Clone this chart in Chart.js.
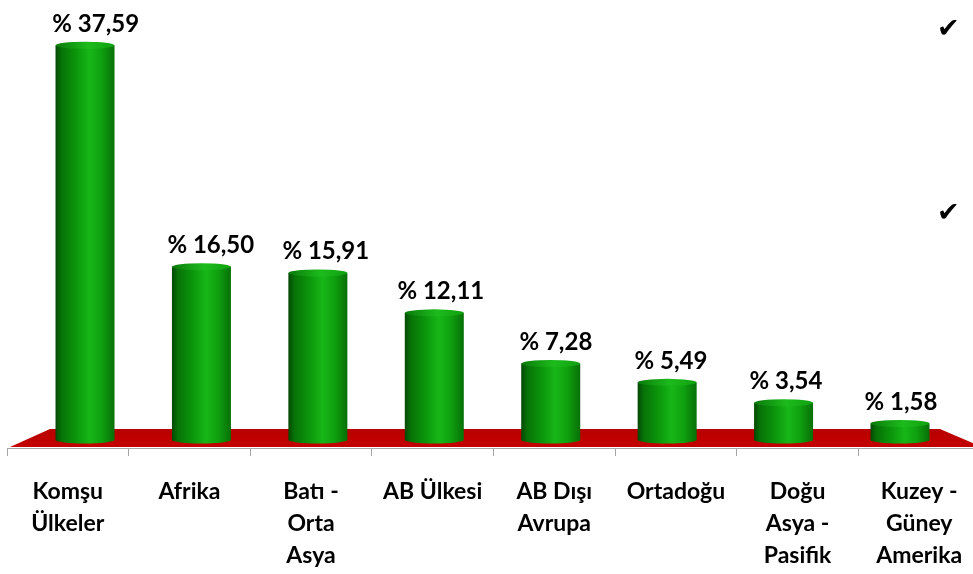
<!DOCTYPE html>
<html>
<head>
<meta charset="utf-8">
<script src="https://cdn.jsdelivr.net/npm/chart.js@4/dist/chart.umd.min.js"></script>
<style>
html,body{margin:0;padding:0;background:#fff;overflow:hidden;width:973px;height:574px;}
#wrap{position:relative;width:985px;height:574px;}
canvas{display:block;}
.chk{position:absolute;font-family:"DejaVu Sans",sans-serif;font-size:27px;line-height:27px;color:#000;}
</style>
</head>
<body>
<div id="wrap">
<canvas id="c" width="985" height="574"></canvas>
<span class="chk" style="left:937px;top:14px;">✔</span>
<span class="chk" style="left:937px;top:198px;">✔</span>
</div>
<script>
// Categories (multi-line labels)
const categories = [
  ['Komşu', 'Ülkeler'],
  ['Afrika'],
  ['Batı -', 'Orta', 'Asya'],
  ['AB Ülkesi'],
  ['AB Dışı', 'Avrupa'],
  ['Ortadoğu'],
  ['Doğu', 'Asya -', 'Pasifik'],
  ['Kuzey -', 'Güney', 'Amerika']
];
// Shares (%)
const shares = [37.59, 16.50, 15.91, 12.11, 7.28, 5.49, 3.54, 1.58];
const valueLabels = shares.map(v => '% ' + v.toFixed(2).replace('.', ','));

const RY = 3.5;

const cylPlugin = {
  id: 'cyl',
  beforeDatasetsDraw(chart) {
    const ctx = chart.ctx;
    const a = chart.chartArea;
    const y0 = chart.scales.y.getPixelForValue(0);
    const front = y0 + 7, back = y0 - 11;
    ctx.save();
    const g = ctx.createLinearGradient(0, back, 0, front);
    g.addColorStop(0, '#b80000');
    g.addColorStop(1, '#c40000');
    ctx.fillStyle = g;
    ctx.beginPath();
    ctx.moveTo(a.left + 3, front);
    ctx.lineTo(a.left + 43, back);
    ctx.lineTo(a.right - 40, back);
    ctx.lineTo(a.right + 2, front);
    ctx.closePath();
    ctx.fill();
    ctx.restore();
  },
  afterDatasetsDraw(chart) {
    const ctx = chart.ctx;
    const a = chart.chartArea;
    const meta = chart.getDatasetMeta(0);
    ctx.save();
    meta.data.forEach((el, i) => {
      const p = el.getProps(['x', 'y', 'base', 'width'], true);
      const w = p.width, l = p.x - w / 2, r = p.x + w / 2;
      const side = ctx.createLinearGradient(l, 0, r, 0);
      side.addColorStop(0, '#044804');
      side.addColorStop(0.1, '#077207');
      side.addColorStop(0.35, '#0b960b');
      side.addColorStop(0.58, '#17b717');
      side.addColorStop(0.78, '#0fa00f');
      side.addColorStop(1, '#077007');
      ctx.fillStyle = side;
      ctx.beginPath();
      ctx.ellipse(p.x, p.base, w / 2, RY, 0, 0, Math.PI * 2);
      ctx.fill();
      ctx.fillRect(l, p.y, w, p.base - p.y);
      const top = ctx.createLinearGradient(l, 0, r, 0);
      top.addColorStop(0, '#0a7a0a');
      top.addColorStop(0.55, '#1cbb1c');
      top.addColorStop(1, '#10a010');
      ctx.fillStyle = top;
      ctx.beginPath();
      ctx.ellipse(p.x, p.y, w / 2, RY, 0, 0, Math.PI * 2);
      ctx.fill();
      // label, shifted slightly toward the back (perspective)
      const lx = p.x + (a.right - p.x) * 0.012;
      ctx.fillStyle = '#000';
      ctx.font = 'bold 24px Lato';
      ctx.textAlign = 'center';
      ctx.textBaseline = 'alphabetic';
      ctx.fillText(valueLabels[i], lx, p.y - RY - 10);
    });
    ctx.restore();
  }
};

new Chart(document.getElementById('c'), {
  type: 'bar',
  data: {
    labels: categories,
    datasets: [{
      data: shares.map((v, i) => ({ x: i, y: v })),
      xAxisID: 'xb',
      yAxisID: 'y',
      backgroundColor: 'rgba(0,0,0,0)',
      borderWidth: 0,
      barThickness: 59
    }]
  },
  options: {
    responsive: false,
    animation: false,
    devicePixelRatio: 1,
    layout: { padding: { left: 7, right: 5, top: 20, bottom: 0 } },
    plugins: { legend: { display: false }, tooltip: { enabled: false } },
    scales: {
      x: {
        type: 'category',
        position: 'bottom',
        offset: true,
        grid: { display: true, offset: true, drawOnChartArea: false, drawTicks: true, tickLength: 8, color: '#a6a6a6' },
        border: { display: true, color: '#a6a6a6' },
        ticks: { color: '#000', padding: 20, maxRotation: 0, autoSkip: false,
                 font: { family: 'Lato', weight: 'bold', size: 23, lineHeight: 1.39 } },
        afterFit(s) { s.height = 126; }
      },
      xb: {
        type: 'linear',
        axis: 'x',
        display: false,
        offset: false,
        grid: { offset: false },
        min: -0.67,
        max: 7.687
      },
      y: {
        display: false,
        min: -0.76,
        max: 40
      }
    }
  },
  plugins: [cylPlugin]
});
</script>
</body>
</html>
